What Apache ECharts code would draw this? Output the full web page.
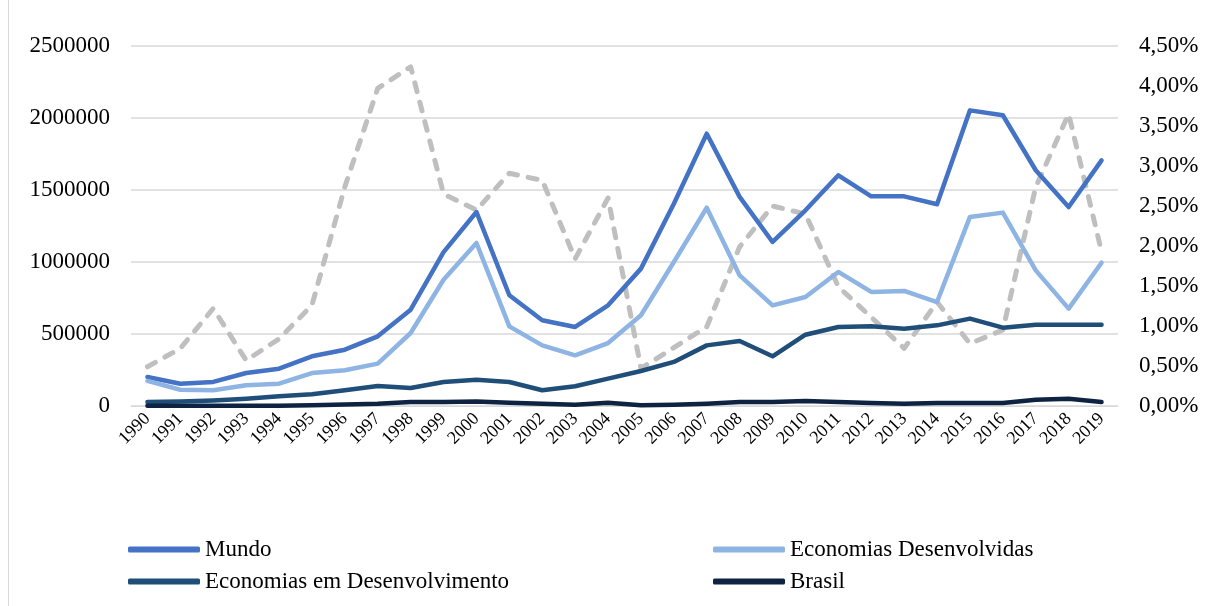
<!DOCTYPE html>
<html>
<head>
<meta charset="utf-8">
<script src="https://cdn.jsdelivr.net/npm/echarts@6/dist/echarts.min.js"></script>
<style>
html,body{margin:0;padding:0;background:#fff;}
#chart{width:1206px;height:606px;}
</style>
</head>
<body>
<div id="chart"></div>
<script>
var years = ['1990','1991','1992','1993','1994','1995','1996','1997','1998','1999','2000','2001','2002','2003','2004','2005','2006','2007','2008','2009','2010','2011','2012','2013','2014','2015','2016','2017','2018','2019'];
var mundo = [201000,155000,167000,229000,259000,345000,391000,484000,669000,1069000,1347000,769000,595000,549000,699000,954000,1405000,1891000,1452000,1139000,1359000,1602000,1456000,1456000,1401000,2053000,2019000,1637000,1382000,1706000];
var desenvolvidas = [174000,113000,109000,144000,155000,229000,248000,294000,507000,877000,1132000,553000,421000,352000,437000,630000,1000000,1377000,907000,699000,757000,931000,792000,799000,722000,1313000,1343000,942000,676000,995000];
var emDesenvolvimento = [28000,32000,39000,51000,67000,81000,109000,139000,125000,167000,183000,167000,109000,137000,190000,243000,306000,421000,451000,345000,495000,549000,553000,537000,560000,607000,544000,565000,565000,565000];
var brasil = [2000,1000,2000,1000,2000,5000,10000,16000,28000,28000,32000,23000,16000,9000,23000,5000,9000,16000,28000,28000,35000,28000,21000,16000,21000,21000,21000,44000,51000,28000];
var participacaoBrasil = [0.49,0.72,1.22,0.57,0.84,1.26,2.74,3.97,4.24,2.65,2.45,2.91,2.82,1.84,2.60,0.47,0.73,0.99,1.99,2.50,2.40,1.49,1.11,0.72,1.30,0.78,0.95,2.74,3.65,1.93];
var leftTicks = [0,500000,1000000,1500000,2000000,2500000];
var rightTicks = [0,0.5,1,1.5,2,2.5,3,3.5,4,4.5];

var font = '"Liberation Serif", "Times New Roman", serif';
var chart = echarts.init(document.getElementById('chart'));
function lineSeries(name, data, color, yIndex, extra) {
  var s = {
    name: name, type: 'line', data: data, yAxisIndex: yIndex,
    symbol: 'none', smooth: false,
    lineStyle: {color: color, width: 4.5, cap: 'round', join: 'round'},
    itemStyle: {color: color},
    emphasis: {disabled: true},
    animation: false
  };
  if (extra) { s.lineStyle = Object.assign(s.lineStyle, extra); }
  return s;
}
chart.setOption({
  backgroundColor: '#fff',
  animation: false,
  grid: {left: 131, right: 88, top: 46, bottom: 200, containLabel: false},
  graphic: [{type: 'line', shape: {x1: 8.5, y1: 0, x2: 8.5, y2: 606}, style: {stroke: '#d9d9d9', lineWidth: 1}}],
  legend: [
    {data: ['Mundo', 'Economias em Desenvolvimento'], orient: 'vertical', left: 128, top: 538, padding: 0,
     icon: 'roundRect', itemWidth: 72, itemHeight: 6, itemGap: 9,
     textStyle: {fontFamily: font, fontSize: 23, color: '#000'}},
    {data: ['Economias Desenvolvidas', 'Brasil'], orient: 'vertical', left: 713, top: 538, padding: 0,
     icon: 'roundRect', itemWidth: 72, itemHeight: 6, itemGap: 9,
     textStyle: {fontFamily: font, fontSize: 23, color: '#000'}}
  ],
  xAxis: {
    type: 'category', data: years, boundaryGap: true,
    axisLine: {show: true, lineStyle: {color: '#d9d9d9', width: 1}},
    axisTick: {show: false},
    axisLabel: {rotate: 45, fontFamily: font, fontSize: 18, color: '#000', margin: 10, interval: 0}
  },
  yAxis: [
    {type: 'value', min: 0, max: 2500000, interval: 500000,
     axisLine: {show: false}, axisTick: {show: false},
     splitLine: {lineStyle: {color: '#d9d9d9', width: 1.5}},
     axisLabel: {fontFamily: font, fontSize: 23, color: '#000', margin: 21,
       formatter: function (v) { return leftTicks.indexOf(v) >= 0 ? String(v) : ''; }}},
    {type: 'value', min: 0, max: 4.5, interval: 0.5, position: 'right',
     axisLine: {show: false}, axisTick: {show: false}, splitLine: {show: false},
     axisLabel: {fontFamily: font, fontSize: 23, color: '#000', margin: 21,
       formatter: function (v) { return v.toFixed(2).replace('.', ',') + '%'; }}}
  ],
  series: [
    lineSeries('Participação do Brasil', participacaoBrasil, '#bfbfbf', 1, {type: [9, 11], width: 5, cap: 'round'}),
    lineSeries('Mundo', mundo, '#4472c4', 0),
    lineSeries('Economias Desenvolvidas', desenvolvidas, '#8eb4e3', 0),
    lineSeries('Economias em Desenvolvimento', emDesenvolvimento, '#1f4e79', 0),
    lineSeries('Brasil', brasil, '#0e2341', 0)
  ]
});
</script>
</body>
</html>
